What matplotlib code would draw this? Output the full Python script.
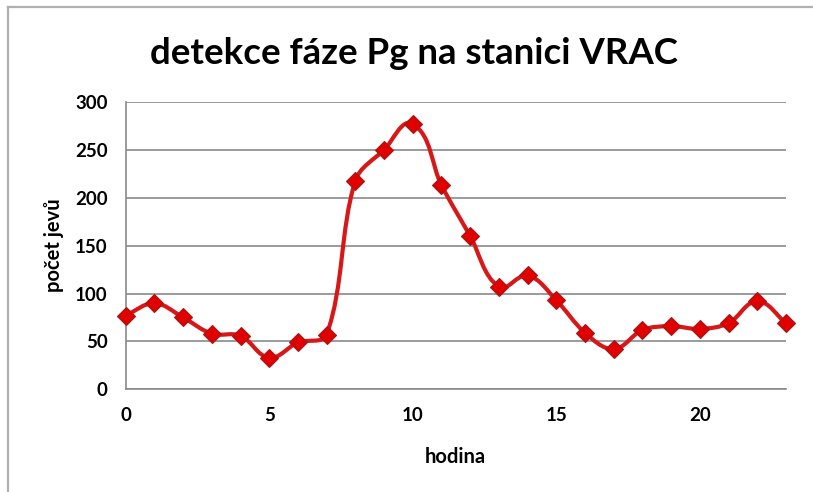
import matplotlib
matplotlib.use("Agg")
import matplotlib.pyplot as plt
import numpy as np
from matplotlib.path import Path
from matplotlib.patches import PathPatch
from matplotlib.lines import Line2D

# data
hours = list(range(24))
counts = [77, 90, 75, 58, 56, 33, 49, 57, 218, 250, 277, 213,
          160, 107, 119, 93, 59, 42, 62, 66, 63, 69, 92, 69]
y_ticks = [0, 50, 100, 150, 200, 250, 300]
x_ticks = [0, 5, 10, 15, 20]

plt.rcParams['font.family'] = ['Lato', 'DejaVu Sans']

fig = plt.figure(figsize=(8.13, 4.92), dpi=100)
ax = fig.add_axes([0.1546, 0.2087, 0.8122, 0.584])
ax.set_xlim(0, 23)
ax.set_ylim(0, 300)

# smoothed line like Excel: bezier in screen space, control arms
# follow the neighbour direction, length a third of the segment
pix = ax.transData.transform(np.column_stack([hours, counts]))
n = len(pix)
tang = []
for i in range(n):
    a = pix[max(i - 1, 0)]
    b = pix[min(i + 1, n - 1)]
    d = b - a
    tang.append(d / np.hypot(*d))
verts = [pix[0]]
codes = [Path.MOVETO]
for i in range(n - 1):
    seg = np.hypot(*(pix[i + 1] - pix[i])) / 3
    verts += [pix[i] + tang[i] * seg, pix[i + 1] - tang[i + 1] * seg, pix[i + 1]]
    codes += [Path.CURVE4] * 3
verts = ax.transData.inverted().transform(np.array(verts))
curve = PathPatch(Path(verts, codes), fill=False, edgecolor='#d81818',
                  linewidth=3.0, capstyle='round', joinstyle='round', zorder=3)
ax.add_patch(curve)

ax.plot(hours, counts, linestyle='none', marker='D', markersize=9.5,
        markerfacecolor='#e00000', markeredgecolor='#a01818',
        markeredgewidth=0.8, zorder=4, clip_on=False)

ax.set_yticks(y_ticks)
ax.set_xticks(x_ticks)
ax.yaxis.grid(True, color='#8a8a8a', linewidth=1.2)
ax.set_axisbelow(True)
for s in ['top', 'right']:
    ax.spines[s].set_visible(False)
for s in ['left', 'bottom']:
    ax.spines[s].set_color('#8a8a8a')
    ax.spines[s].set_linewidth(1.2)
ax.tick_params(axis='both', length=0, labelsize=13.5)
ax.tick_params(axis='y', pad=13)
ax.tick_params(axis='x', pad=13)
for lab in ax.get_xticklabels() + ax.get_yticklabels():
    lab.set_fontweight('bold')

ax.set_xlabel('hodina', fontsize=14.5, fontweight='bold')
ax.xaxis.set_label_coords(0.499, -0.2)
ax.set_ylabel('počet jevů', fontsize=14.5, fontweight='bold')
ax.yaxis.set_label_coords(-0.093, 0.5)

fig.text(414 / 813, 1 - 54 / 492, 'detekce fáze Pg na stanici VRAC',
         ha='center', va='center', fontsize=26.4, fontweight='bold')

# chart frame (top and left edges visible)
fig.add_artist(Line2D([8 / 813, 1.0], [1 - 7 / 492, 1 - 7 / 492],
                      color='#b0b0b0', linewidth=1.6))
fig.add_artist(Line2D([8 / 813, 8 / 813], [0, 1 - 7 / 492],
                      color='#b0b0b0', linewidth=1.6))

fig.savefig('out.png', dpi=100)
